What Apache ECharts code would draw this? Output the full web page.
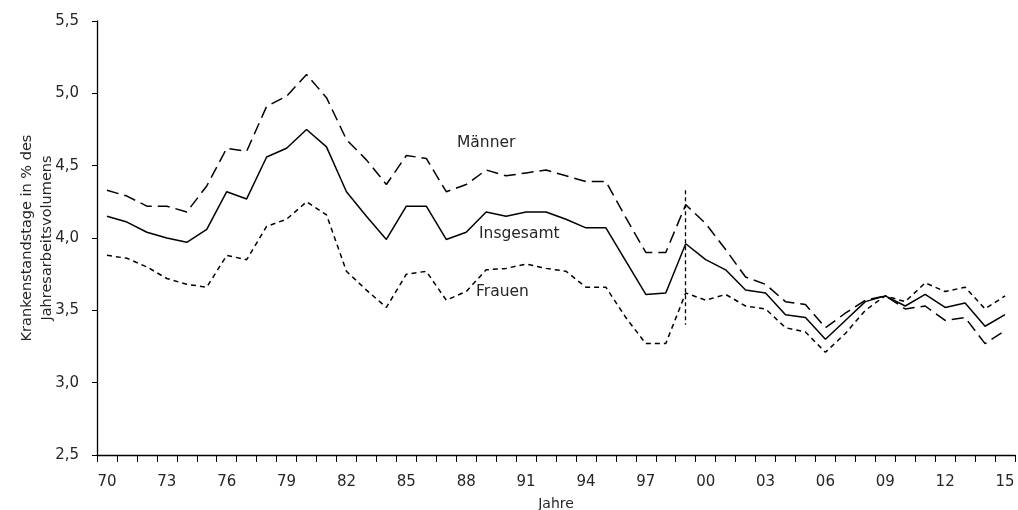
<!DOCTYPE html>
<html>
<head>
<meta charset="utf-8">
<script src="https://cdn.jsdelivr.net/npm/echarts@6/dist/echarts.min.js"></script>
<style>
  html, body { margin: 0; padding: 0; background: #fff; }
  #chart { width: 1018px; height: 510px; }
</style>
</head>
<body>
<div id="chart"></div>
<script>
// Krankenstand 1970-2015
var years = ['70','71','72','73','74','75','76','77','78','79',
             '80','81','82','83','84','85','86','87','88','89',
             '90','91','92','93','94','95','96','97','98','99',
             '00','01','02','03','04','05','06','07','08','09',
             '10','11','12','13','14','15'];

var insgesamt = [4.15, 4.11, 4.04, 4.00, 3.97, 4.06, 4.32, 4.27, 4.56, 4.62,
                 4.75, 4.63, 4.32, 4.15, 3.99, 4.22, 4.22, 3.99, 4.04, 4.18,
                 4.15, 4.18, 4.18, 4.13, 4.07, 4.07, 3.84, 3.61, 3.62, 3.96,
                 3.85, 3.78, 3.64, 3.62, 3.47, 3.45, 3.30, 3.43, 3.56, 3.60,
                 3.53, 3.61, 3.52, 3.55, 3.39, 3.47];

var maenner = [4.33, 4.29, 4.22, 4.22, 4.18, 4.36, 4.62, 4.60, 4.91, 4.98,
               5.13, 4.97, 4.68, 4.54, 4.37, 4.57, 4.55, 4.32, 4.37, 4.47,
               4.43, 4.45, 4.47, 4.43, 4.39, 4.39, 4.14, 3.90, 3.90, 4.23,
               4.10, 3.92, 3.73, 3.68, 3.56, 3.54, 3.38, 3.48, 3.57, 3.60,
               3.51, 3.53, 3.43, 3.45, 3.27, 3.36];

var frauen = [3.88, 3.86, 3.80, 3.72, 3.68, 3.66, 3.88, 3.85, 4.08, 4.13,
              4.25, 4.16, 3.77, 3.64, 3.52, 3.75, 3.77, 3.57, 3.63, 3.78,
              3.79, 3.82, 3.79, 3.77, 3.66, 3.66, 3.45, 3.27, 3.27, 3.62,
              3.57, 3.61, 3.53, 3.51, 3.38, 3.35, 3.21, 3.34, 3.50, 3.60,
              3.56, 3.69, 3.63, 3.66, 3.51, 3.60];

// Bruch in der Zeitreihe (1999)
var breakYear = '99';
var breakRange = [4.33, 3.40];

var font = 'DejaVu Sans';
var textColor = '#262626';

var chart = echarts.init(document.getElementById('chart'));

var option = {
  backgroundColor: '#fff',
  animation: false,
  textStyle: { fontFamily: font, color: textColor },
  grid: { left: 97, right: 3, top: 21, bottom: 55, containLabel: false, outerBoundsMode: 'none' },
  xAxis: {
    type: 'category',
    data: years,
    boundaryGap: true,
    name: 'Jahre',
    nameLocation: 'middle',
    nameGap: 42,
    nameMoveOverlap: false,
    nameTextStyle: { fontFamily: font, fontSize: 14, color: textColor },
    axisLine: { lineStyle: { color: '#000', width: 1.3 } },
    axisTick: { show: true, interval: 0, length: 7, lineStyle: { color: '#000' } },
    axisLabel: { interval: 2, margin: 20, fontFamily: font, fontSize: 15, color: textColor },
    splitLine: { show: false }
  },
  yAxis: {
    type: 'value',
    min: 2.5,
    max: 5.5,
    interval: 0.5,
    name: 'Krankenstandstage in % des\nJahresarbeitsvolumens',
    nameLocation: 'middle',
    nameRotate: 90,
    nameGap: 40,
    nameMoveOverlap: false,
    nameTextStyle: { fontFamily: font, fontSize: 14.5, color: textColor, lineHeight: 20 },
    axisLine: { show: true, lineStyle: { color: '#000', width: 1.3 } },
    axisTick: { show: true, length: 5, lineStyle: { color: '#000' } },
    axisLabel: {
      margin: 18,
      fontFamily: font,
      fontSize: 15,
      color: textColor,
      formatter: function (v) { return v.toFixed(1).replace('.', ','); }
    },
    splitLine: { show: false }
  },
  series: [
    {
      name: 'Männer',
      type: 'line',
      data: maenner,
      symbol: 'none',
      lineStyle: { color: '#000', width: 1.5, type: [12, 6] }
    },
    {
      name: 'Insgesamt',
      type: 'line',
      data: insgesamt,
      symbol: 'none',
      lineStyle: { color: '#000', width: 1.5, type: 'solid' },
      markLine: {
        symbol: ['none', 'none'],
        silent: true,
        label: { show: false },
        lineStyle: { color: '#000', width: 1.3, type: [4, 3] },
        data: [[
          { coord: [breakYear, breakRange[0]] },
          { coord: [breakYear, breakRange[1]] }
        ]]
      }
    },
    {
      name: 'Frauen',
      type: 'line',
      data: frauen,
      symbol: 'none',
      lineStyle: { color: '#000', width: 1.5, type: [5, 4] }
    }
  ],
  graphic: [
    { type: 'text', left: 457, top: 135, style: { text: 'Männer', fontFamily: font, fontSize: 15.5, fill: textColor } },
    { type: 'text', left: 479, top: 226, style: { text: 'Insgesamt', fontFamily: font, fontSize: 15.5, fill: textColor } },
    { type: 'text', left: 476, top: 284, style: { text: 'Frauen', fontFamily: font, fontSize: 15.5, fill: textColor } }
  ]
};

chart.setOption(option);
</script>
</body>
</html>
